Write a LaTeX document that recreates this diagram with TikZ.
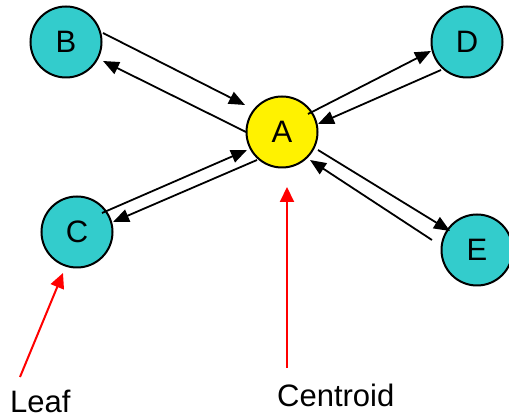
\documentclass[tikz,border=0pt]{standalone}
\usepackage{fontspec}
\setmainfont{Liberation Sans}
\usetikzlibrary{arrows.meta}
\definecolor{tealfill}{RGB}{51,204,204}
\begin{document}
\begin{tikzpicture}[x=1pt,y=-1pt,
 vert/.style={circle,draw=black,line width=2pt,minimum size=71pt,inner sep=0pt,font=\fontsize{31}{36}\selectfont},
 leafnode/.style={vert,fill=tealfill},
 cent/.style={vert,fill=yellow},
 link/.style={line width=1.8pt,-{Triangle[length=16pt,width=13pt]}},
 redlink/.style={red,line width=2pt,-{Triangle[length=15pt,width=14pt]}},
 lbl/.style={font=\fontsize{31}{36}\selectfont,inner sep=0pt,anchor=base west}]
\useasboundingbox (0,0) rectangle (509,419);
\node[cent] (A) at (282,132) {A};
\node[leafnode] (B) at (66,42) {B};
\node[leafnode] (C) at (77,232) {C};
\node[leafnode] (D) at (467,42) {D};
\node[leafnode] (E) at (477,250) {E};
% B <-> A
\draw[link] ([shift={(37,-9)}]B.center) -- ([shift={(-37,-27)}]A.center);
\draw[link] ([shift={(-36,0)}]A.center) -- ([shift={(37,19)}]B.center);
% A <-> D
\draw[link] ([shift={(26,-18)}]A.center) -- ([shift={(-36,9)}]D.center);
\draw[link] ([shift={(-26,28)}]D.center) -- ([shift={(36,-8)}]A.center);
% C <-> A
\draw[link] ([shift={(25,-19)}]C.center) -- ([shift={(-35,18)}]A.center);
\draw[link] ([shift={(-25,28)}]A.center) -- ([shift={(36,-10)}]C.center);
% A <-> E
\draw[link] ([shift={(36,18)}]A.center) -- ([shift={(-27,-19)}]E.center);
\draw[link] ([shift={(-45,-10)}]E.center) -- ([shift={(28,28)}]A.center);
% labels
\node[lbl] (leaf) at (10,413) {Leaf};
\node[lbl] (centroid) at (277,407) {Centroid};
\coordinate (leafstart) at (20,377);
\coordinate (centstart) at (287,368);
\draw[redlink] (leafstart) -- ([shift={(-14,41)}]C.center);
\draw[redlink] (centstart) -- ([shift={(5,55)}]A.center);
\end{tikzpicture}
\end{document}
